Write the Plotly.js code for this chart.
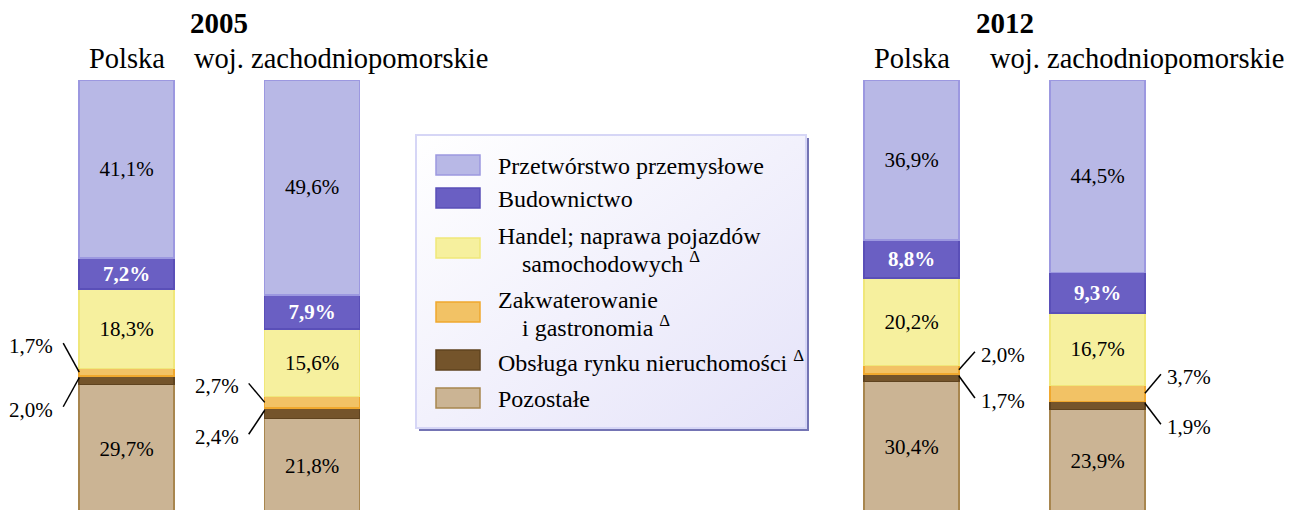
<!DOCTYPE html>
<html>
<head>
<meta charset="utf-8">
<script src="https://cdn.plot.ly/plotly-3.0.1.min.js"></script>
<style>html,body{margin:0;padding:0;background:#fff;}#chart{width:1306px;height:510px;}</style>
</head>
<body>
<div id="chart"></div>
<script>
// ---- DATA ----
const years = ['2005', '2012'];
const categories = ['Polska', 'woj. zachodniopomorskie'];
// series in stacking order (bottom -> top)
const seriesNames = ['Pozostałe', 'Obsługa rynku nieruchomości', 'Zakwaterowanie i gastronomia',
  'Handel; naprawa pojazdów samochodowych', 'Budownictwo', 'Przetwórstwo przemysłowe'];
// values: [2005 Polska, 2005 woj. zach., 2012 Polska, 2012 woj. zach.]
const pozostale      = [29.7, 21.8, 30.4, 23.9];
const obsluga        = [2.0, 2.4, 1.7, 1.9];
const zakwaterowanie = [1.7, 2.7, 2.0, 3.7];
const handel         = [18.3, 15.6, 20.2, 16.7];
const budownictwo    = [7.2, 7.9, 8.8, 9.3];
const przetworstwo   = [41.1, 49.6, 36.9, 44.5];
const seriesValues = [pozostale, obsluga, zakwaterowanie, handel, budownictwo, przetworstwo];
// legend texts (same order as seriesNames), with line breaks
const legendLabels = [
  ['Pozostałe'],
  ['Obsługa rynku nieruchomości <sup>Δ</sup>'],
  ['Zakwaterowanie', 'i gastronomia <sup>Δ</sup>'],
  ['Handel; naprawa pojazdów', 'samochodowych <sup>Δ</sup>'],
  ['Budownictwo'],
  ['Przetwórstwo przemysłowe']
];

// ---- STYLE ----
const FONT = '"Liberation Serif", "Times New Roman", serif';
const fills = ['#cbb494', '#74542b', '#f2c265', '#f6f09e', '#6a5fc3', '#b8b8e6'];
const lines = ['#a8864f', '#5f431f', '#f0a82e', '#f0e77a', '#5a4fb8', '#9c98e0'];
const labelMode = ['inside', 'none', 'none', 'inside', 'inside', 'inside'];
const labelColor = ['#000', '#000', '#000', '#000', '#fff', '#000'];
const labelBold = [false, false, false, false, true, false];
const BARW = 0.51;
const W = 1306, H = 510, MT = 80, MB = 0;
const px = x => x / W;
const py = y => (H - MB - y) / (H - MT - MB);

const traces = [];
years.forEach((yr, yi) => {
  seriesNames.forEach((name, si) => {
    const vals = seriesValues[si];
    const t = {
      type: 'bar',
      name: name,
      x: categories,
      y: [vals[2 * yi], vals[2 * yi + 1]],
      xaxis: yi === 0 ? 'x' : 'x2',
      yaxis: 'y',
      width: BARW,
      marker: {color: fills[si], line: {color: lines[si], width: 1.5}},
      cliponaxis: false,
      hoverinfo: 'skip',
      showlegend: false
    };
    if (labelMode[si] === 'inside') {
      Object.assign(t, {
        texttemplate: labelBold[si] ? '<b>%{y:.1f}%</b>' : '%{y:.1f}%',
        textposition: 'inside',
        insidetextanchor: 'middle',
        textangle: 0,
        constraintext: 'none',
        textfont: {family: FONT, size: 21, color: labelColor[si]}
      });
    } else {
      t.textposition = 'none';
    }
    traces.push(t);
  });
});

const annotations = [];
const shapes = [];

// year titles and category labels
const catShift = [[0, 29], [0, 39]];
years.forEach((yr, yi) => {
  const xa = yi === 0 ? 'x' : 'x2';
  annotations.push({xref: xa + ' domain', yref: 'paper', x: 0.5, y: 1, yanchor: 'middle', yshift: MT - 23,
    text: '<b>' + yr + '</b>', showarrow: false, font: {family: FONT, size: 29, color: '#000'}});
  categories.forEach((c, ci) => {
    annotations.push({xref: xa, yref: 'paper', x: ci, y: 1, yanchor: 'middle', yshift: MT - 58,
      xshift: catShift[yi][ci], text: c, showarrow: false, font: {family: FONT, size: 28.5, color: '#000'}});
  });
});

// small-segment labels with leader lines
const fmt = v => v.toFixed(1).replace('.', ',') + '%';
const leader = [{up: 29, lo: 29, gap: 8}, {up: 19, lo: 24, gap: 8}, {up: 18, lo: 22, gap: 4}, {up: 19, lo: 21, gap: 4}];
for (let b = 0; b < 4; b++) {
  const yi = b < 2 ? 0 : 1;
  const ci = b % 2;
  const xa = yi === 0 ? 'x' : 'x2';
  const side = yi === 0 ? -1 : 1;
  const edge = ci + side * BARW / 2;
  const base = pozostale[b] + obsluga[b];
  const upAnchor = base + zakwaterowanie[b] / 2;
  const L = leader[b];
  shapes.push({type: 'line', xref: xa, yref: 'y', xsizemode: 'pixel', ysizemode: 'pixel',
    xanchor: edge, yanchor: upAnchor, x0: 0, y0: 0, x1: side * 16, y1: L.up,
    line: {color: '#000', width: 1.5}});
  shapes.push({type: 'line', xref: xa, yref: 'y', xsizemode: 'pixel', ysizemode: 'pixel',
    xanchor: edge, yanchor: base, x0: 0, y0: -2, x1: side * 16, y1: -2 - L.lo,
    line: {color: '#000', width: 1.5}});
  annotations.push({xref: xa, yref: 'y', x: edge, y: upAnchor, xanchor: side < 0 ? 'right' : 'left', yanchor: 'middle',
    xshift: side * (16 + L.gap), yshift: L.up - 3, text: fmt(zakwaterowanie[b]), showarrow: false,
    font: {family: FONT, size: 21, color: '#000'}});
  annotations.push({xref: xa, yref: 'y', x: edge, y: base, xanchor: side < 0 ? 'right' : 'left', yanchor: 'middle',
    xshift: side * (16 + L.gap), yshift: -2 - L.lo - 3, text: fmt(obsluga[b]), showarrow: false,
    font: {family: FONT, size: 21, color: '#000'}});
}

// custom legend box
const LX0 = 416, LX1 = 806, LY0 = 135, LY1 = 428;
shapes.push({type: 'rect', xref: 'paper', yref: 'paper', layer: 'below',
  x0: px(LX0 + 3), x1: px(LX1 + 3), y0: py(LY0 + 3), y1: py(LY1 + 3),
  fillcolor: '#7474b4', line: {width: 0}});
shapes.push({type: 'rect', xref: 'paper', yref: 'paper', layer: 'above',
  x0: px(LX0), x1: px(LX1), y0: py(LY0), y1: py(LY1),
  fillcolor: 'rgba(0,0,0,0)', line: {color: '#d6d6f6', width: 2}});
const svg = "<svg xmlns='http://www.w3.org/2000/svg' width='390' height='293' preserveAspectRatio='none'>" +
  "<defs><linearGradient id='g' x1='0' y1='0' x2='1' y2='1'><stop offset='0' stop-color='#ffffff'/>" +
  "<stop offset='1' stop-color='#e5e3f9'/></linearGradient></defs><rect width='390' height='293' fill='url(#g)'/></svg>";
const images = [{source: 'data:image/svg+xml;charset=utf-8,' + encodeURIComponent(svg),
  xref: 'paper', yref: 'paper', x: px(LX0), y: py(LY0), sizex: px(LX1) - px(LX0), sizey: py(LY0) - py(LY1),
  xanchor: 'left', yanchor: 'top', sizing: 'stretch', layer: 'above'}];

const rowCenters = [398, 360, 312, 248, 198, 165]; // same order as seriesNames
const lineIndent = [0, 24];
seriesNames.forEach((name, si) => {
  const cy = rowCenters[si];
  shapes.push({type: 'rect', xref: 'paper', yref: 'paper', layer: 'above',
    x0: px(436), x1: px(480), y0: py(cy - 10), y1: py(cy + 10),
    fillcolor: fills[si], line: {color: lines[si], width: 1.5}});
  const ls = legendLabels[si];
  ls.forEach((t, li) => {
    const ty = ls.length === 1 ? cy + 1 : cy + (li === 0 ? -12 : 14);
    annotations.push({xref: 'paper', yref: 'paper', x: px(496 + lineIndent[li]), y: py(ty),
      xanchor: 'left', yanchor: 'middle', text: t, showarrow: false,
      font: {family: FONT, size: 24, color: '#000'}});
  });
});

const layout = {
  width: W, height: H,
  margin: {l: 0, r: 0, t: MT, b: MB, pad: 0},
  paper_bgcolor: '#fff', plot_bgcolor: 'rgba(0,0,0,0)',
  barmode: 'stack',
  separators: ', ',
  showlegend: false,
  xaxis: {domain: [px(33.75), px(404.75)], type: 'category', range: [-0.5, 1.5], visible: false, fixedrange: true},
  xaxis2: {domain: [px(818.5), px(1190.5)], type: 'category', range: [-0.5, 1.5], visible: false, anchor: 'y', fixedrange: true},
  yaxis: {range: [0.7, 100], visible: false, fixedrange: true},
  annotations: annotations,
  shapes: shapes,
  images: images,
  font: {family: FONT}
};

Plotly.newPlot('chart', traces, layout, {displayModeBar: false, staticPlot: true});
</script>
</body>
</html>
